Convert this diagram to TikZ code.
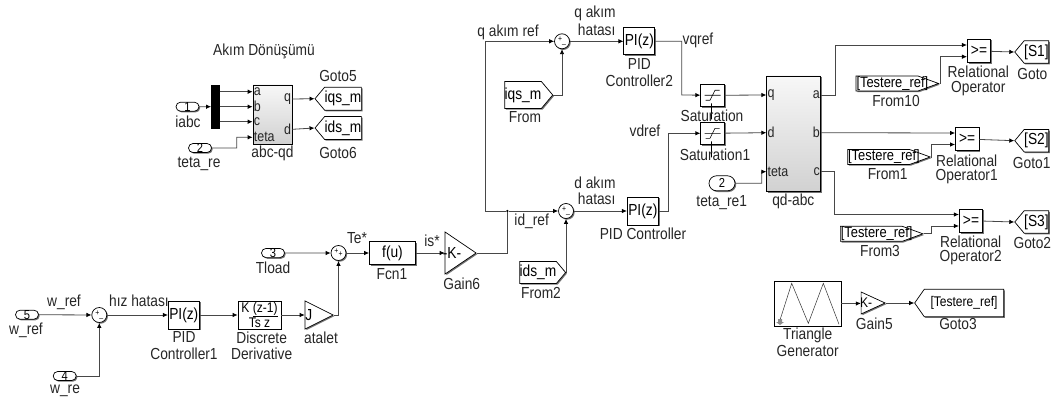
\documentclass[tikz,border=0pt]{standalone}
\usepackage{fontspec}
\setmainfont{Liberation Sans}[FakeStretch=0.86]
\usetikzlibrary{arrows.meta,shapes.geometric,shapes.misc,shapes.symbols,shadows}
\newcommand{\testereref}{\makebox[61pt][l]{[Testere\_ref]}}
\tikzset{
  shadowed/.style={general shadow={shadow xshift=1.2pt,shadow yshift=-1.2pt,fill=black!55}},
  wire/.style={draw=black!72,line width=0.8pt,-{Latex[length=5pt,width=4.5pt,color=black]}},
  line/.style={draw=black!72,line width=0.8pt},
  lbl/.style={inner sep=0pt,text=black!85},
  block/.style={draw=black,fill=white,line width=0.7pt,inner sep=0pt,shadowed},
  grad/.style={block,top color=black!3,bottom color=black!18},
  port/.style={inner sep=1pt,font=\fontsize{14.5}{14.5}\selectfont,text=black!85},
  inport/.style={rounded rectangle,draw=black,fill=white,line width=0.7pt,inner sep=0pt,minimum width=23pt,minimum height=9pt,shadowed,font=\fontsize{13}{12}\selectfont},
  sumblock/.style={circle,draw=black,fill=white,line width=0.7pt,inner sep=0pt,minimum size=15pt,shadowed,font=\fontsize{8}{8}\selectfont},
  gain/.style={isosceles triangle,isosceles triangle stretches,draw=black,fill=white,line width=0.7pt,inner sep=0pt,shadowed,anchor=apex},
  goto/.style={signal,signal from=nowhere,signal to=west,signal pointer angle=100,draw=black,fill=white,line width=0.7pt,inner sep=0pt,shadowed,anchor=east},
  from/.style={signal,signal from=nowhere,signal to=east,signal pointer angle=100,draw=black,fill=white,line width=0.7pt,inner sep=0pt,shadowed,anchor=west},
  fromflat/.style={from,signal pointer angle=40,minimum width=82.5pt,minimum height=15pt,font=\fontsize{15}{15}\selectfont},
  junction/.style={circle,fill=black,inner sep=0pt,minimum size=2.4pt}
}
\begin{document}
\begin{tikzpicture}[x=1pt,y=-1pt,font=\fontsize{16}{16}\selectfont]
\useasboundingbox (0,0) rectangle (1056,401);

\node[lbl] (title)    at (264,  51) {Akım Dönüşümü};
\node[inport] (iabc)  at (187.5,106.7) {1};
\node[lbl] (iabcL)    at (188, 122) {iabc};
\node[inport] (tetaRe) at (200,148) {2};
\node[lbl] (tetaReL)  at (199, 164) {teta\_re};
\node[draw=black,fill=black,inner sep=0pt,minimum width=8pt,minimum height=42pt] (demux) at (215.3,106.7) {};
\node[grad,minimum width=39pt,minimum height=59pt] (abcqd) at (272.5,114.5) {};
\node[port,anchor=west] (abcqdA) at (abcqd.west |- 0, 91.7) {a};
\node[port,anchor=west] (abcqdB) at (abcqd.west |- 0,106.7) {b};
\node[port,anchor=west] (abcqdC) at (abcqd.west |- 0,121.7) {c};
\node[port,anchor=west] (abcqdT) at (abcqd.west |- 0,137.3) {teta};
\node[port,anchor=east] (abcqdQ) at (abcqd.east |- 0, 99  ) {q};
\node[port,anchor=east] (abcqdD) at (abcqd.east |- 0,129.3) {d};
\node[lbl] (abcqdL)   at (272.5,153) {abc-qd};
\node[goto,minimum width=46pt,minimum height=23pt] (goto5) at (361.7, 98.7) {iqs\_m};
\node[goto,minimum width=46pt,minimum height=23pt] (goto6) at (361.7,128  ) {ids\_m};
\node[lbl] (goto5L)   at (338,  76) {Goto5};
\node[lbl] (goto6L)   at (338, 153) {Goto6};

\node[inport] (wRef)  at ( 27,314.7) {5};
\node[lbl] (wRefL)    at ( 26,330) {w\_ref};
\node[lbl] (wRefW)    at ( 64,302) {w\_ref};
\node[inport] (wRe)   at ( 64.7,376) {4};
\node[lbl] (wReL)     at ( 65,391) {w\_re};
\node[sumblock] (sumW) at (99.3,315) {+\raisebox{-2pt}{\_}};
\node[lbl] (hizL)     at (139,301) {hız hatası};
\node[block,minimum width=31pt,minimum height=28pt] (pid1) at (183.8,315) {PI(z)};
\node[lbl] (pid1La)   at (184,337) {PID};
\node[lbl] (pid1Lb)   at (184,354) {Controller1};
\node[block,minimum width=43pt,minimum height=28pt,font=\fontsize{14}{12}\selectfont,align=center] (deriv) at (259.5,315) {K \underline{(z-1)}\\Ts z};
\node[lbl] (derivLa)  at (261.7,338) {Discrete};
\node[lbl] (derivLb)  at (261.7,354) {Derivative};
\node[gain,minimum height=28pt,minimum width=28pt] (atalet) at (334,315) {\hspace*{-4pt}J};
\node[lbl] (ataletL)  at (321,338) {atalet};
\node[inport] (tload) at (273,253) {3};
\node[lbl] (tloadL)   at (273,267.5) {Tload};
\node[sumblock] (sumT) at (338.5,253) {+\raisebox{-3pt}{+}};
\node[lbl] (teL)      at (357,238) {Te*};
\node[block,minimum width=46pt,minimum height=23pt] (fcn1) at (392.5,253) {f(u)};
\node[lbl] (fcn1L)    at (392,274) {Fcn1};
\node[lbl] (isL)      at (432,241) {is*};
\node[gain,minimum height=31pt,minimum width=42pt] (gain6) at (477,253) {\hspace*{-6pt}-K-};
\node[lbl] (gain6L)   at (461.7,283.5) {Gain6};
\node[junction] (idJoin) at (507.3,211) {};
\coordinate (qBend)   at (485,41.3);

\node[lbl] (qRefL)    at (508, 32) {q akım ref};
\node[sumblock] (sumQ) at (562,41.3) {+\raisebox{-2pt}{\_}};
\node[lbl] (qErrLa)   at (595, 13.5) {q akım};
\node[lbl] (qErrLb)   at (596.7,29.5) {hatası};
\node[block,minimum width=31pt,minimum height=27pt] (pid2) at (639.3,41.3) {PI(z)};
\node[lbl] (pid2La)   at (639.3,63.5) {PID};
\node[lbl] (pid2Lb)   at (639.3,80.5) {Controller2};
\node[from,minimum width=43pt,minimum height=27pt] (fromQ) at (504.3,95) {iqs\_m};
\node[lbl] (fromQL)   at (525,117.5) {From};

\node[lbl] (idRefL)   at (531.7,221) {id\_ref};
\node[sumblock] (sumD) at (566,211) {+\raisebox{-2pt}{\_}};
\node[lbl] (dErrLa)   at (595,182.5) {d akım};
\node[lbl] (dErrLb)   at (596.7,198.5) {hatası};
\node[block,minimum width=31pt,minimum height=28pt] (pid) at (642.8,211) {PI(z)};
\node[lbl] (pidL)     at (643,234) {PID Controller};
\node[from,minimum width=44pt,minimum height=22pt] (fromD) at (519.3,272.5) {ids\_m};
\node[lbl] (fromDL)   at (541,293) {From2};

\node[lbl] (vqL)      at (698, 40) {vqref};
\node[lbl] (vdL)      at (645,131) {vdref};
\node[block,minimum width=23.6pt,minimum height=22.6pt] (sat)  at (712.5, 95.3) {};
\node[block,minimum width=23.6pt,minimum height=22.6pt] (sat1) at (712.5,133.3) {};
\foreach \satname in {sat,sat1}
  \draw[line width=0.6pt] ([xshift=-7pt,yshift=-5pt]\satname.center) -- ++(4.5,0) -- ++(5,-10) -- ++(4.5,0)
                          ([xshift=-1pt,yshift=-8pt]\satname.center) -- ++(0,16)
                          ([xshift=-8pt]\satname.center) -- ++(16,0);
\node[lbl] (satL)     at (712,116) {Saturation};
\node[lbl] (sat1L)    at (715,155) {Saturation1};
\node[inport,minimum width=26pt,minimum height=15pt] (tetaRe1) at (722,183.3) {2};
\node[lbl] (tetaRe1L) at (721.7,203) {teta\_re1};
\node[grad,minimum width=54pt,minimum height=115.7pt] (qdabc) at (793.7,133.8) {};
\node[port,anchor=west] (qdabcQ) at (qdabc.west |- 0, 95) {q};
\node[port,anchor=west] (qdabcD) at (qdabc.west |- 0,132.7) {d};
\node[port,anchor=west] (qdabcT) at (qdabc.west |- 0,171.7) {teta};
\node[port,anchor=east] (qdabcA) at (qdabc.east |- 0, 95) {a};
\node[port,anchor=east] (qdabcB) at (qdabc.east |- 0,132.7) {b};
\node[port,anchor=east] (qdabcC) at (qdabc.east |- 0,171.7) {c};
\node[lbl] (qdabcL)   at (793.3,201) {qd-abc};

\node[block,minimum width=23.4pt,minimum height=23.6pt] (rel)  at (979, 51) {>=};
\node[block,minimum width=23.4pt,minimum height=23.6pt] (rel1) at (967.2,139) {>=};
\node[block,minimum width=23.4pt,minimum height=23.6pt] (rel2) at (971,220.7) {>=};
\coordinate (relA) at (rel.west |- 0,45);
\coordinate (relB) at (rel.west |- 0,56.7);
\coordinate (rel1A) at (rel1.west |- 0,133);
\coordinate (rel1B) at (rel1.west |- 0,144.5);
\coordinate (rel2A) at (rel2.west |- 0,214.5);
\coordinate (rel2B) at (rel2.west |- 0,226);
\node[fromflat] (from10) at (855.7,83.5) {\testereref};
\node[fromflat] (from1)  at (847.3,157) {\testereref};
\node[fromflat] (from3)  at (840,233.8) {\testereref};
\node[lbl] (from10L)  at (896,101) {From10};
\node[lbl] (from1L)   at (887.7,174) {From1};
\node[lbl] (from3L)   at (880,251) {From3};
\node[lbl] (relLa)    at (978.3,72) {Relational};
\node[lbl] (relLb)    at (978.3,88.5) {Operator};
\node[lbl] (rel1La)   at (966.7,161) {Relational};
\node[lbl] (rel1Lb)   at (966.7,177) {Operator1};
\node[lbl] (rel2La)   at (970.7,242) {Relational};
\node[lbl] (rel2Lb)   at (970.7,258) {Operator2};
\node[goto,minimum width=31pt,minimum height=22.5pt] (gotoS1) at (1049,52) {[S1]};
\node[goto,minimum width=31pt,minimum height=22.5pt] (gotoS2) at (1049,140.7) {[S2]};
\node[goto,minimum width=31pt,minimum height=22.5pt] (gotoS3) at (1049,222) {[S3]};
\node[lbl] (gotoS1L)  at (1032.3,73.5) {Goto};
\node[lbl] (gotoS2L)  at (1031.7,162.5) {Goto1};
\node[lbl] (gotoS3L)  at (1032.3,243) {Goto2};

\node[block,minimum width=66.7pt,minimum height=45pt] (tri) at (807.7,303.5) {};
\draw[line width=0.5pt,black!80] (780,320) -- (791.7,283.3) -- (808.3,323.3) -- (823.3,283.3) -- (839,324.3);
\draw[fill=black!45,draw=none] (778,319) -- (782,319) -- (782,322) -- (784,322) -- (780,325) -- (776,322) -- (778,322) -- cycle;
\node[lbl] (triLa)    at (807.7,335) {Triangle};
\node[lbl] (triLb)    at (807.7,351) {Generator};
\node[gain,minimum height=24pt,minimum width=22pt,font=\fontsize{14}{14}\selectfont] (gain5) at (886,303) {\hspace*{-6pt}-K-};
\node[lbl] (gain5L)   at (874.3,323.5) {Gain5};
\node[goto,minimum width=89pt,minimum height=27.5pt,signal pointer angle=110,font=\fontsize{14}{14}\selectfont] (goto3) at (1004,303) {[Testere\_ref]};
\node[lbl] (goto3L)   at (958,323.5) {Goto3};

\draw[wire] (iabc) -- (iabc -| demux.west);
\draw[wire] (demux.east |- abcqdA) -- (abcqdA.west);
\draw[wire] (demux.east |- abcqdB) -- (abcqdB.west);
\draw[wire] (demux.east |- abcqdC) -- (abcqdC.west);
\draw[wire] (tetaRe) -- (236.7,148) |- (abcqdT.west);
\draw[wire] (abcqdQ.east) -- (goto5.west);
\draw[wire] (abcqdD.east) -- (goto6.west);

\draw[wire] (wRef) -- (sumW);
\draw[wire] (wRe) -| (sumW);
\draw[wire] (sumW) -- (pid1);
\draw[wire] (pid1) -- (deriv);
\draw[wire] (deriv) -- (atalet.west |- deriv);
\draw[wire] (atalet.apex) -| (sumT);
\draw[wire] (tload) -- (sumT);
\draw[wire] (sumT) -- (fcn1);
\draw[wire] (fcn1) -- (gain6.west |- fcn1);
\draw[line] (gain6.apex) -| (idJoin);
\draw[wire] (idJoin) -- (sumD);
\draw[wire] (idJoin) -| (qBend) -- (sumQ);
\draw[wire] (fromQ.east) -| (sumQ);
\draw[wire] (fromD.east) -| (sumD);
\draw[wire] (sumQ) -- (pid2);
\draw[wire] (sumD) -- (pid);
\draw[wire] (pid2) -| (681.7,95) -- (sat);
\draw[wire] (pid) -| (668.7,133.3) -- (sat1);
\draw[wire] (sat) -- (qdabcQ.west);
\draw[wire] (sat1) -- (qdabcD.west);
\draw[wire] (tetaRe1) -- (761.7,183.3) |- (qdabcT.west);
\draw[wire] (qdabcA.east) -- (835,95) |- (relA);
\draw[wire] (qdabcB.east) -- (rel1A);
\draw[wire] (qdabcC.east) -- (834.3,171.7) |- (rel2A);
\draw[wire] (from10.east) -- (940,83.5) |- (relB);
\draw[wire] (from1.east) -- (931.7,157) |- (rel1B);
\draw[wire] (from3.east) -- (931.7,233.8) |- (rel2B);
\draw[wire] (rel) -- (gotoS1.west);
\draw[wire] (rel1) -- (gotoS2.west);
\draw[wire] (rel2) -- (gotoS3.west);
\draw[wire] (tri) -- (gain5.west |- tri);
\draw[wire] (gain5.apex) -- (goto3.west);
\end{tikzpicture}
\end{document}
